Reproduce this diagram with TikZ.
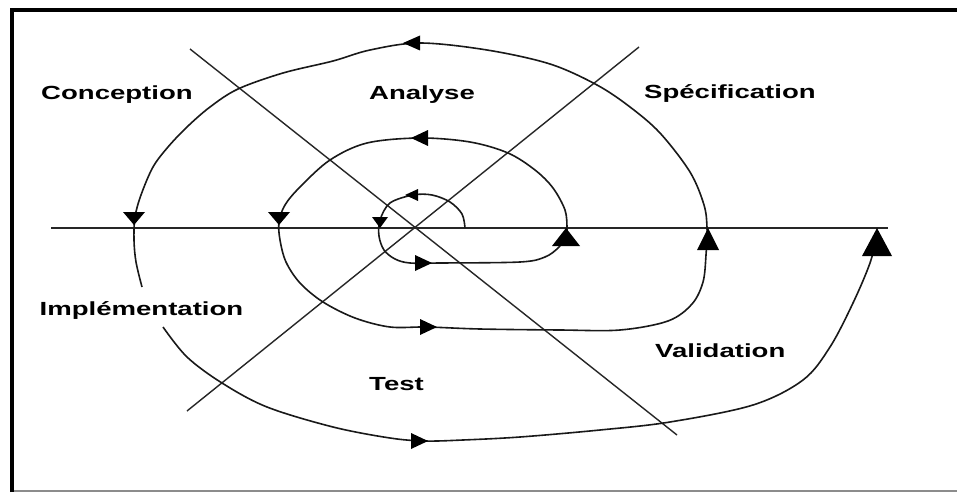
\documentclass[tikz,border=0pt]{standalone}
\usepackage{graphicx}
\usepackage{fontspec}
\setmainfont{Liberation Sans}
\begin{document}
\begin{tikzpicture}[x=1pt,y=-1pt,
  axisline/.style={line width=1.4pt, draw=black!85},
  spiral/.style={line width=1.6pt, draw=black!90},
  tipfill/.style={fill=black},
  lbl/.style={anchor=base west, inner sep=0pt, font=\bfseries\fontsize{19}{19}\selectfont}]
\useasboundingbox (0,0) rectangle (957,492);
\fill[white] (0,0) rectangle (957,492);
% frame
\draw[line width=2pt, black!45] (10,490.8) -- (957,490.8);
\draw[line width=4pt] (12,492) -- (12,10.5) -- (957,10.5);
% axes
\coordinate (h1) at (51,228);
\coordinate (h2) at (888,228);
\coordinate (d1a) at (190,49);
\coordinate (d1b) at (677,435);
\coordinate (d2a) at (639,47);
\coordinate (d2b) at (187,411);
\draw[axisline] (h1) -- (h2);
\draw[axisline] (d1a) -- (d1b);
\draw[axisline] (d2a) -- (d2b);
% spiral
\draw[spiral] plot[smooth, tension=0.55] coordinates {
 (465,228) (462,214) (450,202) (432,195) (413,195) (390,203) (380,220)
 (379,236) (384,250) (395,259) (410,263) (440,263) (520,262) (545,257)
 (559,247) (566,236) (567,228) (565,210) (553,188) (535,170) (508,153)
 (470,142) (420,138) (367,143) (330,160) (300,187) (285,205) (279,222)
 (280,240) (286,262) (300,283) (323,302) (355,318) (390,327) (427,327)
 (480,329) (560,330) (620,330) (668,321) (692,304) (703,282) (706,255)
 (707,228) (704,205) (690,172) (660,133) (630,107) (597,85) (550,64)
 (487,50) (420,43) (370,50) (333,61) (283,73) (238,89) (210,107)
 (187,127) (168,147) (153,167) (141,195) (135,217) (134,240) (136,262)
 (142,287)};
\draw[spiral] plot[smooth, tension=0.55] coordinates {
 (163,327) (187,357) (222,383) (267,407) (333,427) (390,438) (425,441)
 (463,440) (520,437) (600,430) (670,422) (753,405) (803,380) (830,347)
 (853,303) (870,263) (877,235)};
% arrowheads
\fill[tipfill] (403,43) -- (420,35.5) -- (420,50.5) -- cycle;
\fill[tipfill] (411,138) -- (428,130) -- (428,146) -- cycle;
\fill[tipfill] (405,195) -- (418,189) -- (418,201) -- cycle;
\fill[tipfill] (134,225) -- (123,212) -- (145,212) -- cycle;
\fill[tipfill] (279,225) -- (268,212) -- (290,212) -- cycle;
\fill[tipfill] (380,228) -- (372,217) -- (388,217) -- cycle;
\fill[tipfill] (432,263) -- (415,255) -- (415,271) -- cycle;
\fill[tipfill] (437,327) -- (420,319) -- (420,335) -- cycle;
\fill[tipfill] (428,441) -- (411,433) -- (411,449) -- cycle;
\fill[tipfill] (566,228) -- (552,246) -- (580,246) -- cycle;
\fill[tipfill] (708,228) -- (697,250) -- (719,250) -- cycle;
\fill[tipfill] (877,228) -- (862,256) -- (892,256) -- cycle;
% labels
\node[lbl] (conc) at (41,99.5) {\scalebox{1.45}[1]{Conception}};
\node[lbl] (anal) at (369,99.5) {\scalebox{1.45}[1]{Analyse}};
\node[lbl] (spec) at (644,99) {\scalebox{1.45}[1]{Spécification}};
\node[lbl] (impl) at (39.5,315) {\scalebox{1.45}[1]{Implémentation}};
\node[lbl] (vali) at (655,357) {\scalebox{1.45}[1]{Validation}};
\node[lbl] (test) at (369,390) {\scalebox{1.45}[1]{Test}};
\end{tikzpicture}
\end{document}
